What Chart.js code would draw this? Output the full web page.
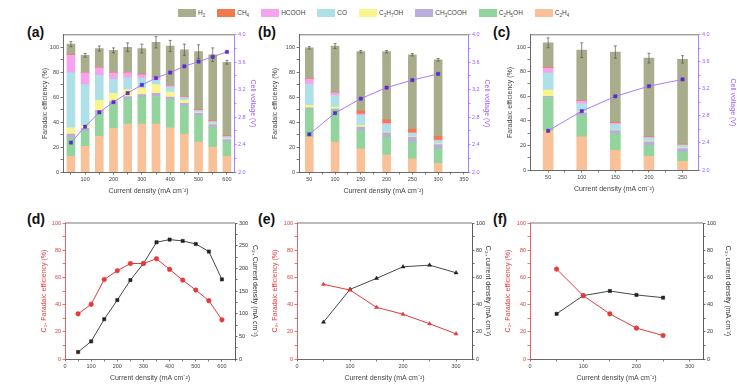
<!DOCTYPE html>
<html>
<head>
<meta charset="utf-8">
<script src="https://cdn.jsdelivr.net/npm/chart.js@4.4.1/dist/chart.umd.min.js"></script>
<style>
  body { margin: 0; background: #fff; width: 737px; height: 384px; position: relative; overflow: hidden;
         font-family: "Liberation Sans", Arial, sans-serif; }
  canvas { position: absolute; }
  .tag { position: absolute; font-weight: bold; font-size: 14px; line-height: 14px; color: #111; }
  #legend { position: absolute; left: 178px; top: 9px; display: flex; gap: 12px; font-size: 6.5px; line-height: 8px; color: #444; }
  .item { display: flex; align-items: center; white-space: nowrap; }
  .box { width: 18px; height: 8px; margin-right: 2px; }
  sub { font-size: 4.5px; vertical-align: baseline; position: relative; top: 1.5px; line-height: 0; }
</style>
</head>
<body>
<div id="legend"></div>
<div class="tag" style="left:27px;top:25px">(a)</div>
<div class="tag" style="left:258px;top:25px">(b)</div>
<div class="tag" style="left:493px;top:25px">(c)</div>
<div class="tag" style="left:27px;top:212px">(d)</div>
<div class="tag" style="left:258px;top:212px">(e)</div>
<div class="tag" style="left:493px;top:212px">(f)</div>

<script>
  // ---- data ----
  // stacking order, bottom to top
  var products = ['C₂H₄', 'C₂H₅OH', 'CH₃COOH', 'C₃H₇OH', 'CO', 'HCOOH', 'CH₄', 'H₂'];

  var xA = [50, 100, 150, 200, 250, 300, 350, 400, 450, 500, 550, 600];
  var aC2H4   = [12.5, 20.5, 28.5, 35, 38.5, 38.5, 38.5, 35.5, 30.5, 24, 20, 12.5];
  var aC2H5OH = [15, 12.5, 19, 19, 20, 21.5, 22, 22.5, 22.5, 21, 16, 11.5];
  var aCH3COOH = [3, 2, 2, 2.5, 2, 2, 2.5, 2, 2, 2, 2, 2];
  var aC3H7OH = [5, 2, 8, 6.5, 5.5, 5, 7, 4, 2.5, 0.5, 0.5, 0.5];
  var aCO     = [44, 33, 20, 11.5, 9.5, 8, 4, 4, 2, 1.5, 1.5, 1.5];
  var aHCOOH  = [14, 9.5, 6, 5, 4, 3, 1.5, 1, 0.5, 0.5, 0.5, 0.5];
  var aCH4    = [0.5, 0.5, 0.5, 0.5, 0.5, 0.5, 0.5, 0.5, 0.5, 0.5, 0.5, 0.5];
  var aH2     = [8.5, 13.5, 15, 17.5, 20, 20.5, 28, 31.5, 37.5, 46.5, 53, 59];
  var aErr    = [2, 1.5, 2, 2, 3.5, 3.5, 4.5, 4.5, 4.5, 5.5, 5.5, 1.5];
  var aVolt   = [2.43, 2.66, 2.87, 3.02, 3.15, 3.27, 3.37, 3.45, 3.54, 3.61, 3.68, 3.75];

  var xB = [50, 100, 150, 200, 250, 300];
  var bC2H4   = [28, 24, 18.5, 13.5, 10.5, 7];
  var bC2H5OH = [22.5, 25.5, 15, 14.5, 13.5, 11.5];
  var bCH3COOH = [1, 1, 2.5, 3.5, 4, 3.5];
  var bC3H7OH = [2, 1.5, 1.5, 0.5, 0.5, 0.5];
  var bCO     = [17, 9.5, 8, 6, 2.5, 2.5];
  var bHCOOH  = [4, 2, 1, 1, 0.5, 0.5];
  var bCH4    = [0.5, 0.5, 2.5, 3, 3, 3];
  var bH2     = [24.5, 37, 47.5, 54.5, 59.5, 61.5];
  var bErr    = [1, 2, 1, 1, 1, 1];
  var bVolt   = [2.55, 2.86, 3.07, 3.23, 3.34, 3.43];

  var xC = [50, 100, 150, 200, 250];
  var cC2H4   = [32, 27, 16, 11, 7];
  var cC2H5OH = [27, 17.5, 13.5, 9, 7.5];
  var cCH3COOH = [1, 2, 2.5, 3, 3];
  var cC3H7OH = [5, 1, 0.5, 0.5, 0.5];
  var cCO     = [14, 6.5, 4.5, 2.5, 2];
  var cHCOOH  = [4, 2, 1, 0.5, 0.5];
  var cCH4    = [0.5, 0.5, 0.5, 0.5, 0.5];
  var cH2     = [20, 41, 57.5, 64, 69];
  var cErr    = [4, 6, 5, 4, 3];
  var cVolt   = [2.58, 2.87, 3.09, 3.24, 3.34];

  var xD = [50, 100, 150, 200, 250, 300, 350, 400, 450, 500, 550, 600];
  var dFE = [33.2, 40.2, 58.5, 64.9, 70.2, 70.2, 73.7, 65.9, 58, 50.7, 42.9, 28.8];
  var dJ  = [15.4, 38.8, 87.8, 130, 174, 210.7, 257.5, 263.4, 260.4, 253.8, 237, 175.6];

  var xE = [50, 100, 150, 200, 250, 300];
  var eFE = [54.9, 50.7, 38, 32.9, 25.9, 18.5];
  var eJ  = [27.1, 51.2, 59.3, 67.8, 69, 63.4];

  var xF = [50, 100, 150, 200, 250];
  var fFE = [66.1, 46.6, 33.2, 22.7, 17.3];
  var fJ  = [33.2, 46.6, 50, 47.1, 45.1];

  // ---- styles ----
  var productColors = ['#f9c198', '#93d39d', '#b9aedb', '#f8f58c', '#aee0e8', '#f5a3ef', '#f07a4e', '#a9ad8c'];
  var legendLabels = ['H<sub>2</sub>', 'CH<sub>4</sub>', 'HCOOH', 'CO', 'C<sub>3</sub>H<sub>7</sub>OH',
                      'CH<sub>3</sub>COOH', 'C<sub>2</sub>H<sub>5</sub>OH', 'C<sub>2</sub>H<sub>4</sub>'];
  var GREY = '#444', PURPLE = '#9b5cff', RED = '#e23b3b';
  var XTITLE = 'Current density (mA cm⁻²)';

  Chart.defaults.font.family = '"Liberation Sans", Arial, sans-serif';
  Chart.defaults.color = GREY;
  Chart.defaults.animation = false;

  // legend (reverse of stacking order)
  var legend = document.getElementById('legend');
  for (var k = 0; k < legendLabels.length; k++) {
    var it = document.createElement('div');
    it.className = 'item';
    it.innerHTML = '<div class="box" style="background:' + productColors[productColors.length - 1 - k] + '"></div><span>' + legendLabels[k] + '</span>';
    legend.appendChild(it);
  }

  function range(a, b, step) {
    var r = [];
    for (var v = a; v <= b + 1e-9; v += step) r.push(Math.round(v * 100) / 100);
    return r;
  }

  function axis(o) {
    return {
      type: 'linear', position: o.pos, min: o.min, max: o.max,
      stacked: !!o.stacked, offset: false,
      afterBuildTicks: function(s) { s.ticks = o.ticks.map(function(v) { return { value: v }; }); },
      afterFit: function(s) { if (s.isHorizontal()) s.height = o.size; else s.width = o.size; },
      grid: { drawOnChartArea: false, offset: false, tickLength: 2.5, color: o.color, lineWidth: 0.7 },
      border: { display: true, color: o.color, width: 0.8 },
      ticks: { autoSkip: false, maxRotation: 0, padding: 1.5, color: o.color, font: { size: 5.5 }, callback: o.label },
      title: { display: true, text: o.title, color: o.color, padding: 0, font: { size: 7 } }
    };
  }

  var framePlugin = {
    id: 'frame',
    beforeDatasetsDraw: function(chart) {
      var a = chart.chartArea, ctx = chart.ctx;
      ctx.save();
      ctx.strokeStyle = '#555';
      ctx.lineWidth = 0.8;
      ctx.beginPath();
      ctx.moveTo(a.left, a.top);
      ctx.lineTo(a.right, a.top);
      ctx.stroke();
      ctx.restore();
    }
  };

  var errPlugin = {
    id: 'errbars',
    afterDatasetsDraw: function(chart, args, opts) {
      if (!opts.err) return;
      var ctx = chart.ctx, sx = chart.scales.x, sy = chart.scales.y;
      var bars = chart.data.datasets.filter(function(d) { return d.type === 'bar'; });
      ctx.save();
      ctx.strokeStyle = '#555';
      ctx.lineWidth = 0.7;
      opts.err.forEach(function(e, i) {
        var top = 0;
        bars.forEach(function(d) { top += d.data[i].y; });
        var x = sx.getPixelForValue(bars[0].data[i].x);
        var y1 = sy.getPixelForValue(top + e), y0 = sy.getPixelForValue(top - e);
        ctx.beginPath();
        ctx.moveTo(x, y0); ctx.lineTo(x, y1);
        ctx.moveTo(x - 1.5, y1); ctx.lineTo(x + 1.5, y1);
        ctx.moveTo(x - 1.5, y0); ctx.lineTo(x + 1.5, y0);
        ctx.stroke();
      });
      ctx.restore();
    }
  };

  function mount(L, T, W, H) {
    var c = document.createElement('canvas');
    c.width = W; c.height = H;
    c.style.left = L + 'px'; c.style.top = T + 'px';
    c.style.width = W + 'px'; c.style.height = H + 'px';
    document.body.appendChild(c);
    return c;
  }

  function pts(xs, ys) {
    return xs.map(function(x, i) { return { x: x, y: ys[i] }; });
  }

  function barPanel(box, xs, series, volt, err, xo) {
    var sets = series.map(function(vals, i) {
      return { type: 'bar', label: products[i], data: pts(xs, vals), backgroundColor: productColors[i],
               barThickness: box.bar, yAxisID: 'y', order: 1 };
    });
    sets.push({ type: 'line', label: 'Cell voltage', data: pts(xs, volt), yAxisID: 'y2', order: 0,
                borderColor: '#a97cf8', borderWidth: 1, pointStyle: 'rect', pointRadius: 2.3,
                pointBackgroundColor: '#5b2cc9', pointBorderColor: '#5b2cc9', pointBorderWidth: 0.5 });
    new Chart(mount(box.L, box.T, box.W, box.H), {
      type: 'bar',
      data: { datasets: sets },
      plugins: [framePlugin, errPlugin],
      options: {
        responsive: false,
        layout: { padding: { top: box.pad, left: 0, right: 0, bottom: 0 } },
        plugins: { legend: { display: false }, tooltip: { enabled: false }, errbars: { err: err } },
        scales: {
          x: axis({ pos: 'bottom', min: xo.min, max: xo.max, ticks: xo.ticks, label: xo.label, color: GREY,
                    title: XTITLE, size: box.bottom, stacked: true }),
          y: axis({ pos: 'left', min: 0, max: 110, ticks: range(0, 100, 10), color: GREY, size: box.left,
                    title: 'Faradaic efficiency (%)', stacked: true,
                    label: function(v) { return v % 20 === 0 ? v : ''; } }),
          y2: axis({ pos: 'right', min: 2, max: 4, ticks: range(2, 4, 0.2), color: PURPLE, size: box.right,
                     title: 'Cell voltage (V)',
                     label: function(v) { return Math.round(v * 10) % 4 === 0 ? v.toFixed(1) : ''; } })
        }
      }
    });
  }

  function linePanel(box, xs, fe, j, xo, jo, shapes, jTitle) {
    new Chart(mount(box.L, box.T, box.W, box.H), {
      type: 'line',
      data: {
        datasets: [
          { label: 'FE', data: pts(xs, fe), yAxisID: 'y', borderColor: RED, borderWidth: 1,
            pointStyle: shapes[0], pointRadius: 2.3, pointBackgroundColor: RED, pointBorderColor: RED, pointBorderWidth: 0.5 },
          { label: 'J', data: pts(xs, j), yAxisID: 'y2', borderColor: '#333', borderWidth: 0.9,
            pointStyle: shapes[1], pointRadius: 2.3, pointBackgroundColor: '#222', pointBorderColor: '#222', pointBorderWidth: 0.5 }
        ]
      },
      plugins: [framePlugin],
      options: {
        responsive: false,
        layout: { padding: { top: box.pad, left: 0, right: 0, bottom: 0 } },
        plugins: { legend: { display: false }, tooltip: { enabled: false } },
        scales: {
          x: axis({ pos: 'bottom', min: 0, max: xo.max, ticks: xo.ticks, color: GREY, title: XTITLE, size: box.bottom,
                    label: function(v) { return v % 100 === 0 ? v : ''; } }),
          y: axis({ pos: 'left', min: 0, max: 100, ticks: range(0, 100, 10), color: RED, size: box.left,
                    title: 'C₂₊ Faradaic efficiency (%)',
                    label: function(v) { return v % 20 === 0 ? v : ''; } }),
          y2: axis({ pos: 'right', min: 0, max: jo.max, ticks: jo.ticks, color: '#333', size: box.right,
                     title: jTitle, label: jo.label })
        }
      }
    });
  }

  var everyFifty = function(v) { return v % 50 === 0 ? v : ''; };

  barPanel({ L: 41, T: 30, W: 216, H: 165, left: 22, right: 23, bottom: 23, pad: 4, bar: 8 },
    xA, [aC2H4, aC2H5OH, aCH3COOH, aC3H7OH, aCO, aHCOOH, aCH4, aH2], aVolt, aErr,
    { min: 22, max: 625, ticks: range(50, 600, 50), label: function(v) { return v % 100 === 0 ? v : ''; } });

  barPanel({ L: 271, T: 30, W: 220, H: 165, left: 28, right: 23, bottom: 23, pad: 4, bar: 8 },
    xB, [bC2H4, bC2H5OH, bCH3COOH, bC3H7OH, bCO, bHCOOH, bCH4, bH2], bVolt, bErr,
    { min: 30, max: 358, ticks: range(50, 350, 25), label: everyFifty });

  barPanel({ L: 506, T: 30, W: 231, H: 163, left: 24, right: 39, bottom: 23, pad: 4, bar: 10 },
    xC, [cC2H4, cC2H5OH, cCH3COOH, cC3H7OH, cCO, cHCOOH, cCH4, cH2], cVolt, cErr,
    { min: 23, max: 273, ticks: range(50, 250, 25), label: everyFifty });

  linePanel({ L: 40, T: 218, W: 219, H: 164, left: 25, right: 24, bottom: 23, pad: 5 },
    xD, dFE, dJ, { max: 650, ticks: range(0, 650, 50) },
    { max: 300, ticks: range(0, 300, 25), label: everyFifty },
    ['circle', 'rect'], 'C₂₊ Current density (mA cm⁻²)');

  linePanel({ L: 271, T: 218, W: 221, H: 164, left: 26, right: 20, bottom: 23, pad: 5 },
    xE, eFE, eJ, { max: 330, ticks: range(0, 300, 50) },
    { max: 100, ticks: range(0, 100, 10), label: function(v) { return v % 20 === 0 ? v : ''; } },
    ['triangle', 'triangle'], 'C₂₊ current density (mA cm⁻²)');

  linePanel({ L: 504, T: 218, W: 228, H: 164, left: 26, right: 29, bottom: 23, pad: 5 },
    xF, fFE, fJ, { max: 325, ticks: range(0, 300, 50) },
    { max: 100, ticks: range(0, 100, 10), label: function(v) { return v % 20 === 0 ? v : ''; } },
    ['circle', 'rect'], 'C₂₊ current density (mA cm⁻²)');
</script>
</body>
</html>
